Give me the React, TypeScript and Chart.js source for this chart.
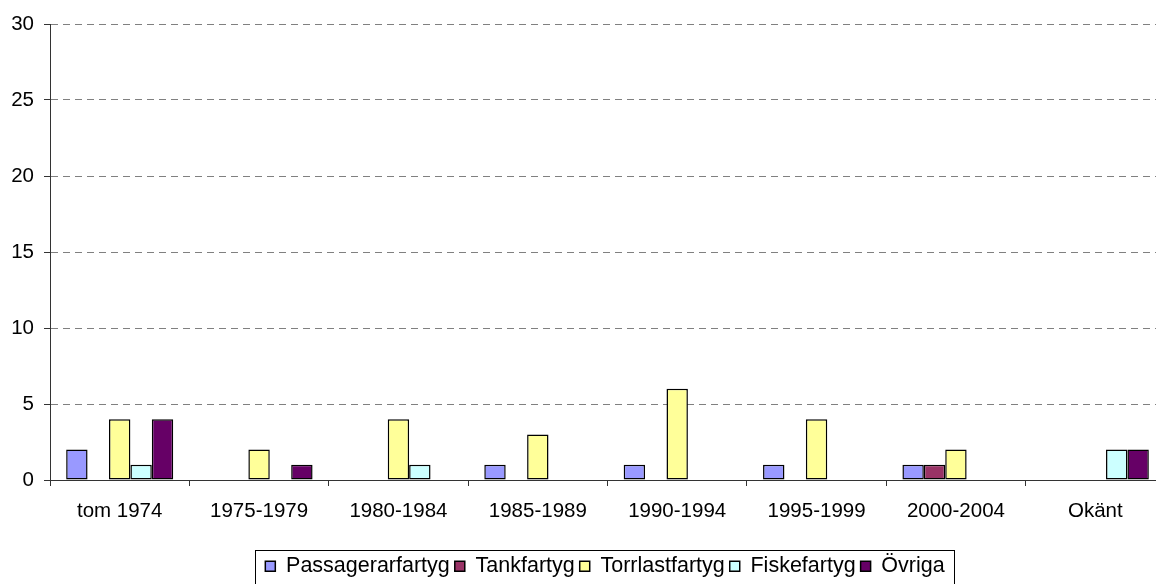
import React, { useEffect, useRef } from "react";
import { Chart, registerables } from "chart.js";

Chart.register(...registerables);

const categories = [
  "tom 1974",
  "1975-1979",
  "1980-1984",
  "1985-1989",
  "1990-1994",
  "1995-1999",
  "2000-2004",
  "Okänt",
];

const passagerarfartyg = [2, 0, 0, 1, 1, 1, 1, 0];
const tankfartyg = [0, 0, 0, 0, 0, 0, 1, 0];
const torrlastfartyg = [4, 2, 4, 3, 6, 4, 2, 0];
const fiskefartyg = [1, 0, 1, 0, 0, 0, 0, 2];
const ovriga = [4, 1, 0, 0, 0, 0, 0, 2];

const seriesNames = ["Passagerarfartyg", "Tankfartyg", "Torrlastfartyg", "Fiskefartyg", "Övriga"];
const seriesColors = ["#9999FF", "#993366", "#FFFF99", "#CCFFFF", "#660066"];

const yMin = 0;
const yMax = 30;
const yStep = 5;

const FONT = "'Liberation Sans', Arial, sans-serif";
const FONT_SIZE = 20.5;
const LEGEND_FONT_SIZE = 21.5;
const LEGEND_SHIFT = 22.5;

const legendTweaks = {
  id: "legendTweaks",
  afterLayout(chart: any) {
    const lg = chart.legend;
    if (!lg) return;
    lg.left += LEGEND_SHIFT;
    lg.right += LEGEND_SHIFT;
  },
  afterDraw(chart: any) {
    const lg = chart.legend;
    const boxes = lg && lg.legendHitBoxes;
    if (!boxes || !boxes.length) return;
    const ctx = chart.ctx;
    const left = Math.min(...boxes.map((b: any) => b.left)) - 10;
    const right = Math.max(...boxes.map((b: any) => b.left + b.width)) + 10;
    const cy = boxes[0].top + boxes[0].height / 2;
    ctx.save();
    ctx.strokeStyle = "#000";
    ctx.lineWidth = 1;
    ctx.strokeRect(Math.round(left) + 0.5, Math.round(cy - 16) + 0.5, Math.round(right - left), 40);
    ctx.restore();
  },
};

export default function App() {
  const ref = useRef<HTMLCanvasElement | null>(null);

  useEffect(() => {
    if (!ref.current) return;
    const allSeries = [passagerarfartyg, tankfartyg, torrlastfartyg, fiskefartyg, ovriga];
    const chart = new Chart(ref.current, {
      type: "bar",
      data: {
        labels: categories,
        datasets: allSeries.map((s, i) => ({
          label: seriesNames[i],
          data: s.map((v) => (v === 0 ? null : v)),
          backgroundColor: seriesColors[i],
          borderColor: "#000",
          borderWidth: 1.5,
          borderSkipped: false,
          categoryPercentage: 0.768,
          barPercentage: 1,
        })),
      },
      options: {
        responsive: false,
        animation: false,
        devicePixelRatio: 1,
        layout: { padding: { left: 0, right: 35, top: 24, bottom: 3 } },
        plugins: {
          tooltip: { enabled: false },
          legend: {
            position: "bottom",
            labels: {
              boxWidth: 10,
              boxHeight: 10,
              padding: 5,
              color: "#000",
              font: { family: FONT, size: LEGEND_FONT_SIZE },
            },
          },
        },
        scales: {
          x: {
            afterFit(scale: any) {
              scale.height = 70.5;
            },
            grid: {
              display: true,
              drawOnChartArea: false,
              offset: true,
              tickLength: 6,
              tickColor: "#333",
              tickWidth: 1,
            },
            border: { display: true, color: "#333", width: 1 },
            ticks: {
              color: "#000",
              padding: 13,
              maxRotation: 0,
              autoSkip: false,
              font: { family: FONT, size: FONT_SIZE },
            },
          },
          y: {
            min: yMin,
            max: yMax,
            afterFit(scale: any) {
              scale.width = 50;
            },
            grid: {
              color: "#808080",
              lineWidth: 1,
              tickLength: 6,
              tickColor: "#333",
              tickWidth: 1,
            },
            border: { display: true, color: "#333", width: 1, dash: [7, 5] },
            ticks: {
              stepSize: yStep,
              color: "#000",
              padding: 10,
              font: { family: FONT, size: FONT_SIZE },
            },
          },
        },
      },
      plugins: [legendTweaks],
    });
    return () => chart.destroy();
  }, []);

  return (
    <div
      style={{
        position: "fixed",
        left: 0,
        top: 0,
        width: 1156,
        height: 584,
        overflow: "hidden",
        background: "#fff",
      }}
    >
      <canvas ref={ref} width={1200} height={590} style={{ display: "block", width: 1200, height: 590 }} />
    </div>
  );
}
